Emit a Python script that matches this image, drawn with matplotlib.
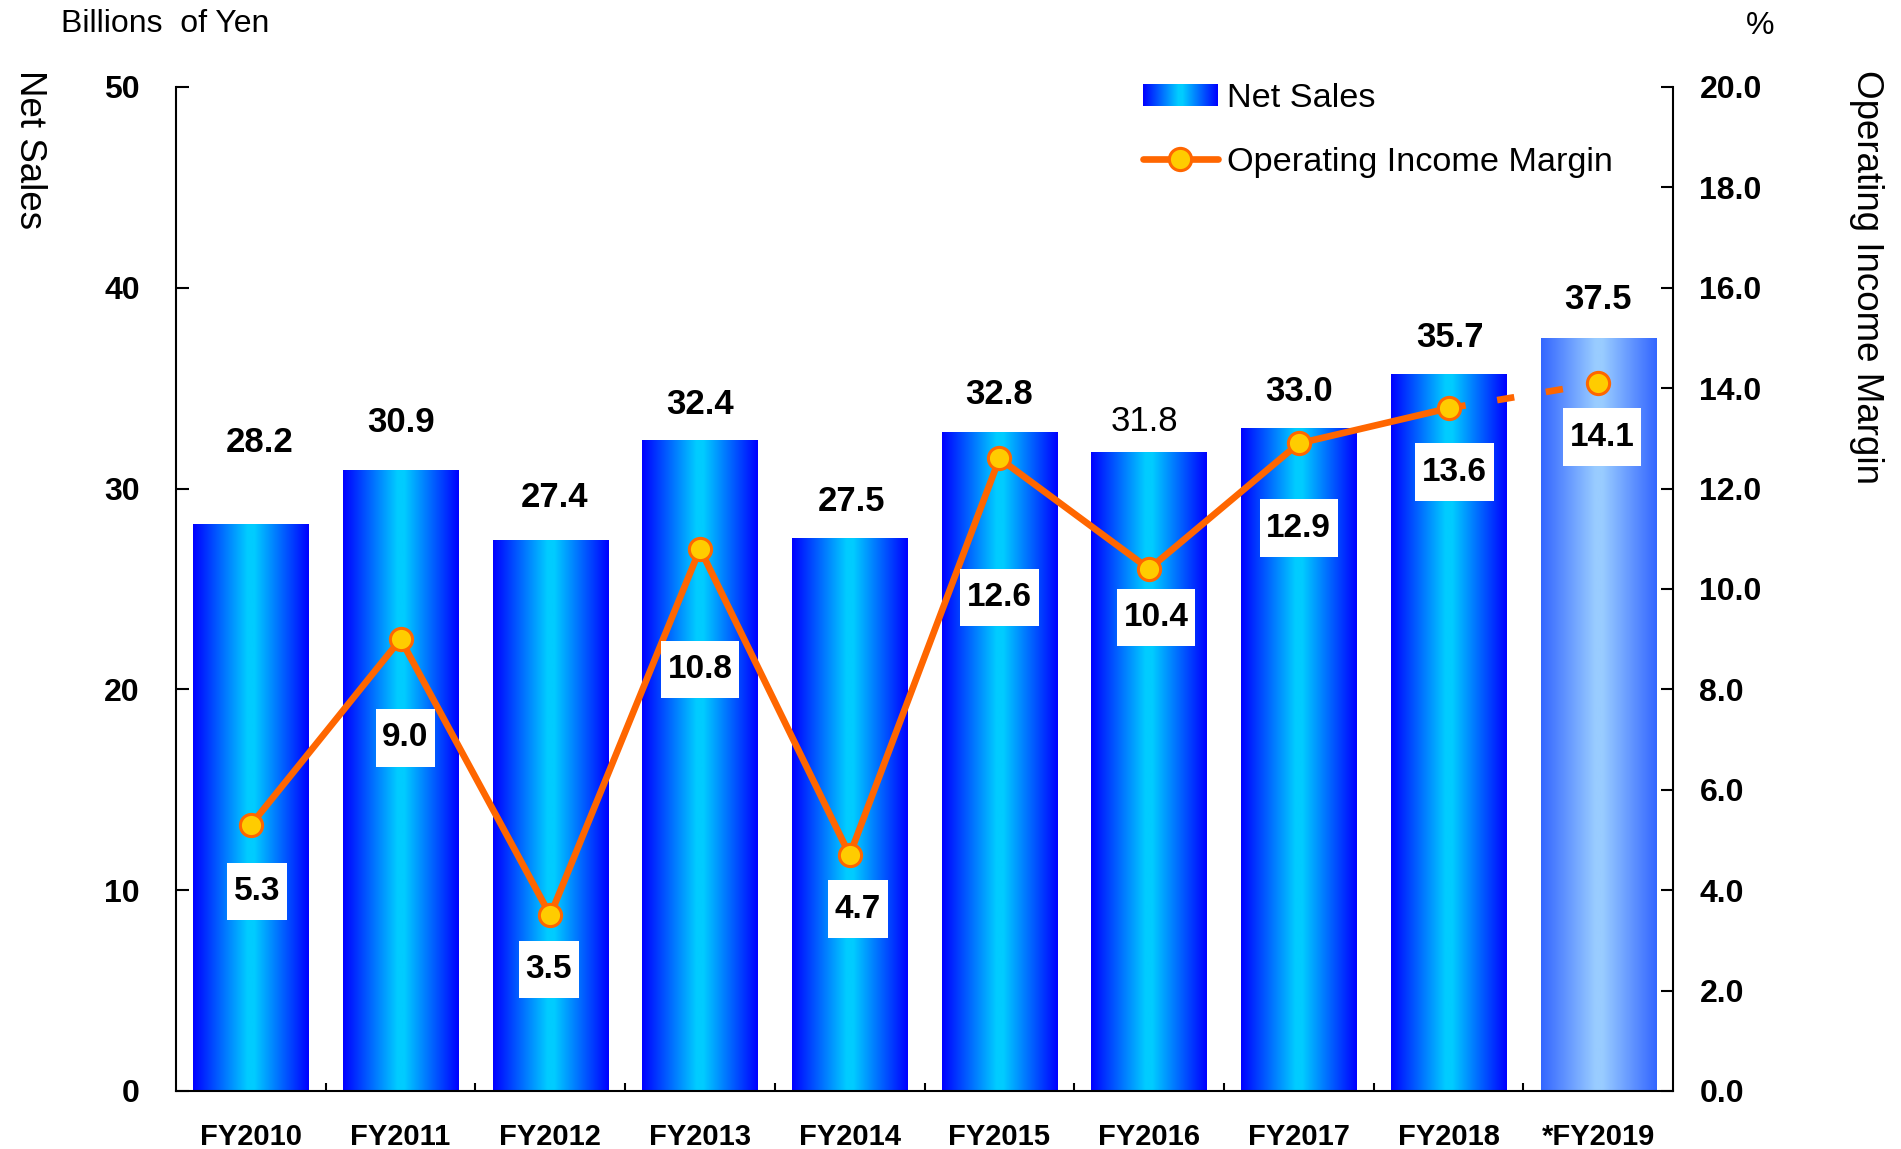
import matplotlib
matplotlib.use("Agg")
import matplotlib.pyplot as plt
import numpy as np
from matplotlib.colors import LinearSegmentedColormap
from matplotlib.legend_handler import HandlerBase
from matplotlib.image import BboxImage
from matplotlib.transforms import Bbox, TransformedBbox
from matplotlib.patches import Rectangle
from matplotlib.lines import Line2D

plt.rcParams["font.family"] = ["Liberation Sans", "DejaVu Sans"]
plt.rcParams["lines.scale_dashes"] = False

# data
years = ["FY2010", "FY2011", "FY2012", "FY2013", "FY2014",
         "FY2015", "FY2016", "FY2017", "FY2018", "*FY2019"]
net_sales = [28.2, 30.9, 27.4, 32.4, 27.5, 32.8, 31.8, 33.0, 35.7, 37.5]
op_margin = [5.3, 9.0, 3.5, 10.8, 4.7, 12.6, 10.4, 12.9, 13.6, 14.1]
sales_ticks = [0, 10, 20, 30, 40, 50]
margin_ticks = [0, 2, 4, 6, 8, 10, 12, 14, 16, 18, 20]

# label placement (points, relative to the bar top / marker)
sales_dx = [6, 0, 3, 0, 1, 0, -3, 0, 1, 0]
sales_dy = [59, 34.5, 31, 26, 27, 27, 22, 26.5, 26.5, 28]
sales_weight = ["bold"] * 6 + ["medium"] + ["bold"] * 3
box_dx = [4.4, 3.5, -1, 0, 6, 0, 5, 0, 4.4, 2.6]
box_dy = [-48, -71, -39, -87, -39, -100, -35, -61, -46, -39]

ORANGE = "#FF6600"
YELLOW = "#FFCC00"

bar_cmap = LinearSegmentedColormap.from_list(
    "bar", [(0, "#0000FF"), (0.47, "#00CCFF"), (0.53, "#00CCFF"), (1, "#0000FF")])
fc_cmap = LinearSegmentedColormap.from_list(
    "forecast", [(0, "#3366FF"), (0.47, "#99CCFF"), (0.53, "#99CCFF"), (1, "#3366FF")])
ramp = np.linspace(0, 1, 256).reshape(1, -1)


class GradientHandler(HandlerBase):
    def __init__(self, cmap):
        super().__init__()
        self.cmap = cmap

    def legend_artist(self, legend, orig_handle, fontsize, handlebox):
        bb = Bbox.from_bounds(-handlebox.xdescent, -handlebox.ydescent,
                              handlebox.width, handlebox.height)
        img = BboxImage(TransformedBbox(bb, handlebox.get_transform()),
                        cmap=self.cmap, interpolation="bilinear")
        img.set_data(ramp)
        handlebox.add_artist(img)
        return img


fig = plt.figure(figsize=(19.01, 11.49), dpi=100)
ax = fig.add_axes([0.0926, 0.0505, 0.7875, 0.8738])
x = np.arange(len(years))

# bars, then a gradient image laid on each one
bars = ax.bar(x, net_sales, width=0.77, color="none", edgecolor="none")
for i, b in enumerate(bars):
    cm = fc_cmap if i == len(bars) - 1 else bar_cmap
    ax.imshow(ramp, cmap=cm, aspect="auto", interpolation="bilinear",
              extent=(b.get_x(), b.get_x() + b.get_width(), 0, b.get_height()),
              zorder=2)
    ax.annotate(f"{net_sales[i]:.1f}", (b.get_x() + b.get_width() / 2, b.get_height()),
                xytext=(sales_dx[i], sales_dy[i]), textcoords="offset points",
                ha="center", va="center", fontsize=25, fontweight=sales_weight[i])

ax.set_xlim(-0.5, len(years) - 0.5)
ax.set_ylim(0, 50)
ax.set_yticks(sales_ticks)
ax.set_yticklabels([str(v) for v in sales_ticks], fontsize=23, fontweight="bold")
ax.set_xticks(x)
ax.set_xticklabels(years, fontsize=21, fontweight="bold")
ax.set_xticks(x[:-1] + 0.5, minor=True)
ax.tick_params(axis="x", which="major", length=0, pad=23)
ax.tick_params(axis="x", which="minor", direction="in", length=6, width=1.5)
ax.tick_params(axis="y", direction="in", length=9, width=1.5, pad=26)
ax.spines["top"].set_visible(False)
ax.spines["right"].set_visible(False)
for s in ("left", "bottom"):
    ax.spines[s].set_linewidth(1.5)

# operating margin on the right axis
ax2 = ax.twinx()
ax2.set_ylim(0, 20)
ax2.set_yticks(margin_ticks)
ax2.set_yticklabels([f"{v:.1f}" for v in margin_ticks], fontsize=23, fontweight="bold")
ax2.tick_params(axis="y", direction="in", length=9, width=1.5, pad=19)
for s in ("top", "left", "bottom"):
    ax2.spines[s].set_visible(False)
ax2.spines["right"].set_linewidth(1.5)

ax2.plot(x[:-1], op_margin[:-1], color=ORANGE, lw=4.8, solid_joinstyle="round", zorder=3)
ax2.plot(x[-2:], op_margin[-2:], color=ORANGE, lw=4.8, linestyle=(0, (12.5, 23)), zorder=3)
ax2.plot(x, op_margin, linestyle="none", marker="o", ms=16, mfc=YELLOW, mec=ORANGE,
         mew=2.2, zorder=4)

for i, v in enumerate(op_margin):
    ax2.annotate(f"{v:.1f}", (x[i], v), xytext=(box_dx[i], box_dy[i]),
                 textcoords="offset points", ha="center", va="center",
                 fontsize=24, fontweight="bold", zorder=5,
                 bbox=dict(boxstyle="square,pad=0.2", fc="white", ec="none",
                           mutation_aspect=2.0))

# legend
sales_handle = Rectangle((0, 0), 1, 1)
margin_handle = Line2D([], [], color=ORANGE, lw=4.8, marker="o", ms=16, mfc=YELLOW,
                       mec=ORANGE, mew=2.2, solid_capstyle="round")
fig.legend([sales_handle, margin_handle], ["Net Sales", "Operating Income Margin"],
           handler_map={sales_handle: GradientHandler(bar_cmap)},
           loc="upper left", bbox_to_anchor=(0.6013, 0.9275), frameon=False,
           fontsize=24.7, borderpad=0, borderaxespad=0, handlelength=2.18,
           handleheight=0.6, handletextpad=0.26, labelspacing=0.94)

fig.text(0.032, 0.9795, "Billions  of Yen", fontsize=23, ha="left", va="center")
fig.text(0.926, 0.977, "%", fontsize=23, ha="center", va="center")
fig.text(0.0155, 0.939, "Net Sales", fontsize=26.5, rotation=270, ha="center", va="top")
fig.text(0.982, 0.939, "Operating Income Margin", fontsize=26.5, rotation=270,
         ha="center", va="top")

fig.savefig("out.png", dpi=100)
